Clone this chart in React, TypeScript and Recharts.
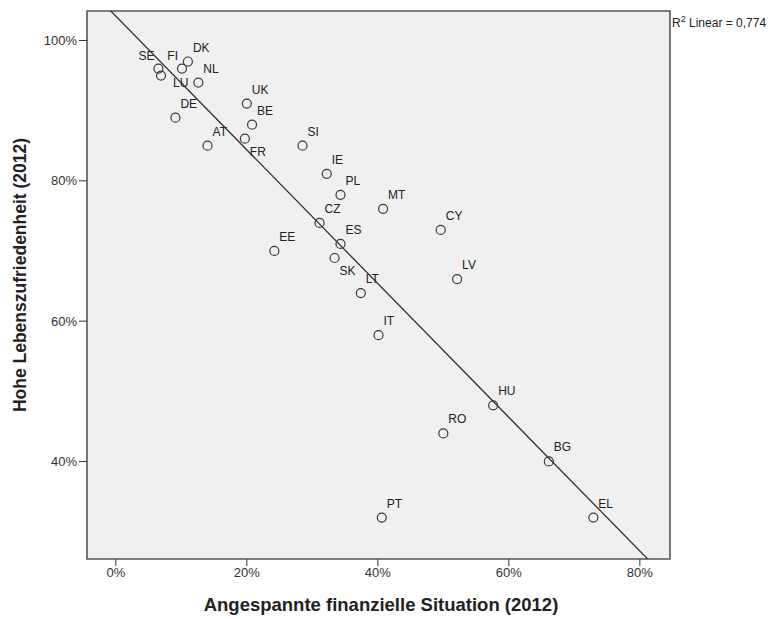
import {
  ScatterChart,
  Scatter,
  XAxis,
  YAxis,
  CartesianGrid,
  ReferenceArea,
  ReferenceLine,
  Label,
} from 'recharts';

const countries = ['SE', 'LU', 'FI', 'DK', 'NL', 'DE', 'UK', 'BE', 'FR', 'AT', 'SI', 'IE', 'PL', 'CZ', 'ES', 'SK', 'EE', 'LT', 'MT', 'CY', 'LV', 'IT', 'HU', 'RO', 'BG', 'EL', 'PT'];
const financialStrain = [6.5, 6.9, 10.1, 11, 12.6, 9.1, 20, 20.8, 19.7, 14, 28.5, 32.2, 34.3, 31.1, 34.3, 33.4, 24.2, 37.4, 40.8, 49.6, 52.1, 40.1, 57.6, 50, 66.1, 72.9, 40.6];
const lifeSatisfaction = [96, 95, 96, 97, 94, 89, 91, 88, 86, 85, 85, 81, 78, 74, 71, 69, 70, 64, 76, 73, 66, 58, 48, 44, 40, 32, 32];
const xTicks = [0, 20, 40, 60, 80];
const yTicks = [40, 60, 80, 100];

// label placement around each marker (SPSS style, mostly upper right)
const labelSpot: Record<string, string> = { SE: 'nw', FI: 'nw', LU: 'e', FR: 'se', SK: 'se' };
const spots: Record<string, { dx: number; dy: number; anchor: 'start' | 'end' }> = {
  ne: { dx: 5, dy: -10, anchor: 'start' },
  nw: { dx: -4, dy: -9, anchor: 'end' },
  e: { dx: 12, dy: 11, anchor: 'start' },
  se: { dx: 5, dy: 17, anchor: 'start' },
};

const points = countries.map((c, i) => ({ country: c, x: financialStrain[i], y: lifeSatisfaction[i] }));

// least squares fit line
const n = points.length;
const mx = financialStrain.reduce((a, b) => a + b, 0) / n;
const my = lifeSatisfaction.reduce((a, b) => a + b, 0) / n;
let sxy = 0;
let sxx = 0;
points.forEach((p) => {
  sxy += (p.x - mx) * (p.y - my);
  sxx += (p.x - mx) * (p.x - mx);
});
const slope = sxy / sxx;
const intercept = my - slope * mx;

const xDomain = [-4.4, 84.6];
const yDomain = [26.1, 104.2];

const font = '"Liberation Sans", Arial, sans-serif';

const Marker = (props: any) => {
  const { cx, cy, payload } = props;
  const s = spots[labelSpot[payload.country] || 'ne'];
  return (
    <g>
      <circle cx={cx} cy={cy} r={4.5} fill="none" stroke="#3a3a3a" strokeWidth={1.2} />
      <text x={cx + s.dx} y={cy + s.dy} textAnchor={s.anchor} fontSize={12} fontFamily={font} fill="#222">
        {payload.country}
      </text>
    </g>
  );
};

export default function App() {
  return (
    <div style={{ position: 'absolute', left: 0, top: 0, width: 778, height: 619, background: '#fff' }}>
      <ScatterChart width={778} height={619} margin={{ top: 11, right: 108, bottom: 30, left: 0 }}>
        <CartesianGrid horizontal={false} vertical={false} fill="#f0f0f0" />
        <XAxis
          type="number"
          dataKey="x"
          domain={xDomain}
          ticks={xTicks}
          allowDataOverflow
          tickFormatter={(v) => `${v}%`}
          height={30}
          tickSize={7}
          axisLine={false}
          tickLine={{ stroke: '#333' }}
          tick={{ fontSize: 13, fill: '#333', fontFamily: font }}
        >
          <Label
            content={() => (
              <text x={381} y={611} textAnchor="middle" fontSize={18.5} fontWeight="bold" fontFamily={font} fill="#222">
                Angespannte finanzielle Situation (2012)
              </text>
            )}
          />
        </XAxis>
        <YAxis
          type="number"
          dataKey="y"
          domain={yDomain}
          ticks={yTicks}
          allowDataOverflow
          tickFormatter={(v) => `${v}%`}
          width={87}
          tickSize={8}
          axisLine={false}
          tickLine={{ stroke: '#333' }}
          tick={{ fontSize: 13, fill: '#333', fontFamily: font }}
        >
          <Label
            content={() => (
              <text
                x={26}
                y={275}
                transform="rotate(-90, 26, 275)"
                textAnchor="middle"
                fontSize={17.5}
                fontWeight="bold"
                fontFamily={font}
                fill="#222"
              >
                Hohe Lebenszufriedenheit (2012)
              </text>
            )}
          />
        </YAxis>
        <ReferenceArea
          x1={xDomain[0]}
          x2={xDomain[1]}
          y1={yDomain[0]}
          y2={yDomain[1]}
          fill="#f0f0f0"
          fillOpacity={0}
          stroke="#555"
          strokeWidth={1.6}
          strokeOpacity={1}
          ifOverflow="visible"
        />
        <ReferenceLine
          segment={[
            { x: xDomain[0], y: intercept + slope * xDomain[0] },
            { x: xDomain[1], y: intercept + slope * xDomain[1] },
          ]}
          stroke="#333"
          strokeWidth={1.3}
          ifOverflow="hidden"
        />
        <Scatter data={points} shape={Marker} isAnimationActive={false} />
      </ScatterChart>
      <div style={{ position: 'absolute', left: 672, top: 14, fontSize: 12, fontFamily: font, color: '#222', whiteSpace: 'nowrap' }}>
        R<sup style={{ fontSize: 9 }}>2</sup> Linear = 0,774
      </div>
    </div>
  );
}
